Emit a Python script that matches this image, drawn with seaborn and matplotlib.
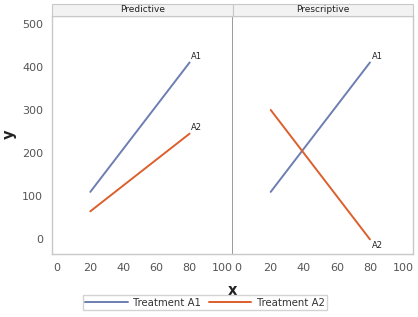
import matplotlib
matplotlib.use("Agg")
import matplotlib.pyplot as plt
import seaborn as sns
import pandas as pd

panels = ["Predictive", "Prescriptive"]
treatments = ["Treatment A1", "Treatment A2"]
end_labels = ["A1", "A2"]
x_vals = [20, 80]
pred_a1 = [110, 410]
pred_a2 = [65, 245]
presc_a1 = [110, 410]
presc_a2 = [300, 0]

series = {
    ("Predictive", "Treatment A1"): pred_a1,
    ("Predictive", "Treatment A2"): pred_a2,
    ("Prescriptive", "Treatment A1"): presc_a1,
    ("Prescriptive", "Treatment A2"): presc_a2,
}
rows = []
for (panel, trt), ys in series.items():
    for x, y in zip(x_vals, ys):
        rows.append({"panel": panel, "treatment": trt, "x": x, "y": y})
df = pd.DataFrame(rows)

palette = {"Treatment A1": "#6d7eb2", "Treatment A2": "#dc5f2c"}

sns.set_style("white")
plt.rcParams["font.family"] = ["DejaVu Sans"]

fig, axes = plt.subplots(1, 2, figsize=(4.18, 3.17), dpi=100, sharey=True)
fig.subplots_adjust(left=0.125, right=0.988, top=0.95, bottom=0.2, wspace=0.0)

edge = "#c8c8c8"
for ax, panel in zip(axes, panels):
    sub = df[df["panel"] == panel]
    sns.lineplot(data=sub, x="x", y="y", hue="treatment", palette=palette,
                 ax=ax, legend=False, linewidth=1.4)
    for trt, lab in zip(treatments, end_labels):
        s = sub[sub["treatment"] == trt]
        xe, ye = s["x"].iloc[-1], s["y"].iloc[-1]
        va = "bottom"
        dy = 4
        if ye < 50:
            va, dy = "top", -4
        ax.text(xe + 1, ye + dy, lab, fontsize=6, va=va, ha="left", color="#222222")
    ax.set_xlim(-3, 106)
    ax.set_ylim(-33, 518)
    ax.set_xticks([0, 20, 40, 60, 80, 100])
    ax.set_yticks([0, 100, 200, 300, 400, 500])
    ax.set_xlabel("")
    ax.set_ylabel("")
    for sp in ax.spines.values():
        sp.set_color(edge)
        sp.set_linewidth(1.0)
    ax.tick_params(axis="both", colors="#666666", labelsize=8, length=3,
                   width=0.8, direction="out", labelcolor="#555555")
    ax.tick_params(axis="x", pad=4)
    # header strip
    ax.add_patch(plt.Rectangle((0, 1.0), 1.0, 0.05, transform=ax.transAxes,
                               fc="#f2f2f2", ec=edge, lw=0.8, clip_on=False, zorder=4))
    ax.text(0.5, 1.025, panel, transform=ax.transAxes, ha="center", va="center",
            fontsize=6.5, color="#222222", zorder=5)

axes[1].tick_params(axis="y", left=False)
axes[0].spines["right"].set_color("#9a9a9a")
axes[0].spines["right"].set_linewidth(1.4)
axes[1].spines["left"].set_visible(False)

axes[0].set_ylabel("y", fontsize=10.5, fontweight="bold", color="#222222")
fig.text(0.555, 0.085, "x", ha="center", va="center", fontsize=10.5,
         fontweight="bold", color="#222222")

handles = [plt.Line2D([], [], color=palette[t], lw=1.4) for t in treatments]
leg = fig.legend(handles, treatments, loc="lower center", ncol=2,
                 bbox_to_anchor=(0.49, 0.005), fontsize=7.3, frameon=True,
                 fancybox=False, edgecolor=edge, handlelength=4.2,
                 columnspacing=0.8, borderpad=0.25, handletextpad=0.5)
for t in leg.get_texts():
    t.set_color("#333333")

fig.savefig("out.png", dpi=100)
